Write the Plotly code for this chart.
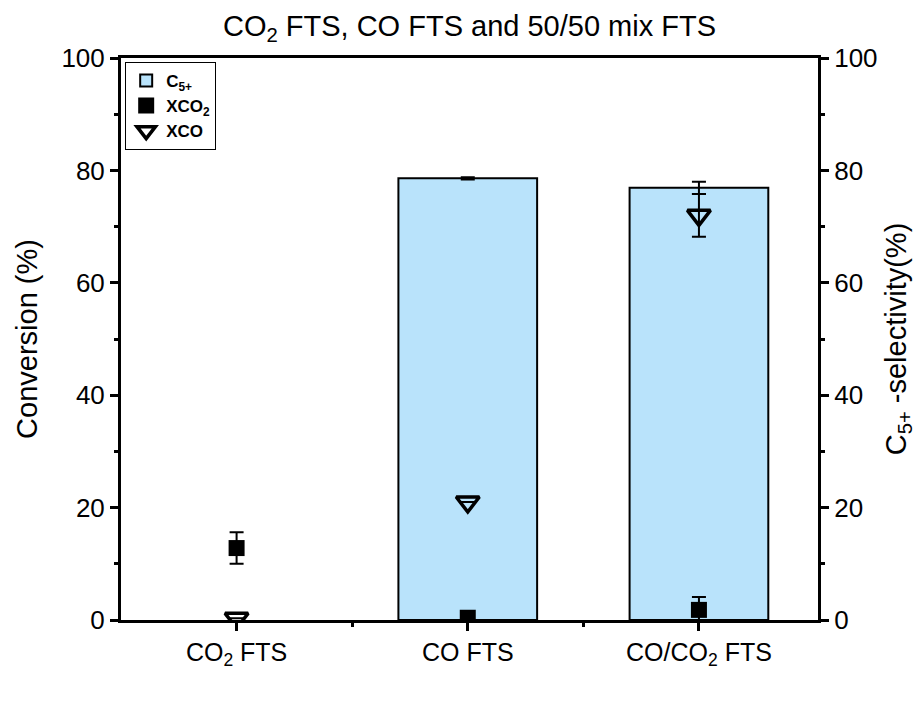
import plotly.graph_objects as go

categories = ["CO<sub>2</sub> FTS", "CO FTS", "CO/CO<sub>2</sub> FTS"]
xpos = [0, 1, 2]
c5_sel = [None, 78.6, 76.9]
c5_err = [0, 0.2, 1.1]
xco2 = [12.8, 0.4, 1.8]
xco2_err = [2.8, 0, 2.3]
xco = [0.3, 21.0, 72.0]
xco_err = [0, 0, 3.8]
yticks = [0, 20, 40, 60, 80, 100]
yminor = [10, 30, 50, 70, 90]

FONT = "Liberation Sans, Arial, sans-serif"

fig = go.Figure()
fig.add_trace(go.Bar(
    x=xpos, y=c5_sel, yaxis="y", width=0.6,
    marker=dict(color="#b9e3fb", line=dict(color="black", width=2)),
    error_y=dict(type="data", array=c5_err, color="black", thickness=2, width=7),
    name="C<sub>5+</sub>",
))
fig.add_trace(go.Scatter(
    x=xpos, y=xco2, mode="markers", yaxis="y2",
    marker=dict(symbol="square", size=16, color="black"),
    error_y=dict(type="data", array=xco2_err, color="black", thickness=2, width=7),
    name="XCO<sub>2</sub>",
))
fig.add_trace(go.Scatter(
    x=xpos, y=xco, mode="markers", yaxis="y2",
    marker=dict(symbol="triangle-down-open", size=20, color="black", line=dict(width=3.5)),
    error_y=dict(type="data", array=xco_err, color="black", thickness=2, width=7),
    name="XCO",
))

axis_common = dict(
    range=[0, 100], tickvals=yticks, ticks="outside", ticklen=8, tickwidth=3,
    showline=True, linecolor="black", linewidth=3, showgrid=False, zeroline=False,
    tickfont=dict(size=26, color="black", family=FONT),
    minor=dict(tickvals=yminor, ticks="outside", ticklen=4, tickwidth=3, tickcolor="black"),
    tickcolor="black",
)

fig.update_layout(
    width=923, height=712,
    paper_bgcolor="white", plot_bgcolor="white",
    margin=dict(l=113, r=113, t=50, b=100),
    font=dict(family=FONT, color="black"),
    title=dict(text="CO<sub>2</sub> FTS, CO FTS and 50/50 mix FTS", x=0.5, xanchor="center",
               y=0.975, yanchor="middle", font=dict(size=29, family=FONT, color="black")),
    xaxis=dict(
        range=[-0.5, 2.515], tickvals=xpos, ticktext=categories,
        ticks="outside", ticklen=8, tickwidth=3, tickcolor="black",
        showline=True, linecolor="black", linewidth=3, mirror=True, showgrid=False, zeroline=False,
        tickfont=dict(size=25, color="black", family=FONT),
        minor=dict(tickvals=[0.5, 1.5], ticks="outside", ticklen=4, tickwidth=3, tickcolor="black"),
    ),
    yaxis=dict(title=dict(text="Conversion (%)", font=dict(size=29, family=FONT, color="black"), standoff=16),
               **axis_common),
    yaxis2=dict(title=dict(text="C<sub>5+</sub> -selectivity(%)", font=dict(size=29, family=FONT, color="black"), standoff=10),
                overlaying="y", side="right", **axis_common),
    legend=dict(x=0.006, y=0.993, xanchor="left", yanchor="top",
                bgcolor="white", bordercolor="black", borderwidth=1,
                font=dict(size=17, family=FONT, color="black", weight="bold"),
                tracegroupgap=0, itemsizing="trace"),
    showlegend=True,
)

fig.write_html("out.html")
